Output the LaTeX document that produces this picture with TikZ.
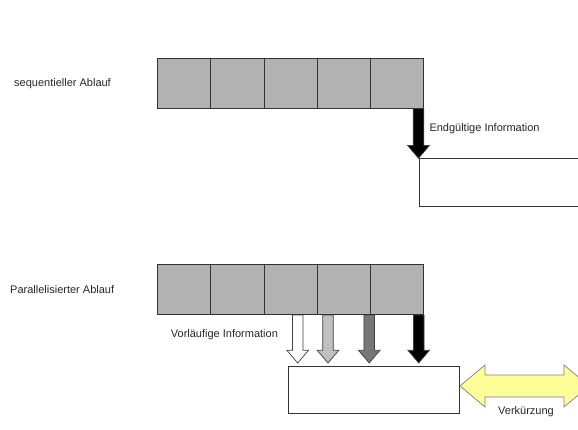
\documentclass[tikz,border=0pt]{standalone}
\usepackage{fontspec}
\setmainfont{Liberation Sans}
\usetikzlibrary{calc}

\definecolor{boxgray}{HTML}{B2B2B2}
\definecolor{framegray}{HTML}{333333}
\definecolor{arrowline}{HTML}{404040}
\definecolor{lightarrow}{HTML}{C0C0C0}
\definecolor{darkarrow}{HTML}{777777}
\definecolor{shortyellow}{HTML}{FFFF99}

% thick arrow pointing down: from #1 to the tip #2, filled with #3
\newcommand{\blockarrow}[3]{%
  \filldraw[fill=#3, draw=arrowline, line width=0.7pt, line join=miter]
    ($(#1)+(-5.3,0)$) -- ($(#2)+(-5.3,-12.7)$) -- ($(#2)+(-10.8,-12.7)$) -- (#2)
    -- ($(#2)+(10.8,-12.7)$) -- ($(#2)+(5.3,-12.7)$) -- ($(#1)+(5.3,0)$) -- cycle;}

\begin{document}
\begin{tikzpicture}[x=1pt,y=-1pt,
    every node/.style={font=\fontsize{11}{13}\selectfont, text=black!85},
    stage/.style={draw=framegray, fill=boxgray, minimum width=53.3pt,
      minimum height=50pt, inner sep=0pt, line width=0.8pt},
    result/.style={draw=framegray, fill=white, inner sep=0pt, line width=0.7pt}]

        \useasboundingbox (0,0) rectangle (578,430);
        \clip (0,0) rectangle (578,430);

        % sequential run
        \node[anchor=west, inner sep=0pt] (seq) at (14,83.3) {sequentieller Ablauf};
        \node[stage] (s1) at (184,83.3)   {};
        \node[stage] (s2) at (237.3,83.3) {};
        \node[stage] (s3) at (290.6,83.3) {};
        \node[stage] (s4) at (343.9,83.3) {};
        \node[stage] (s5) at (397.2,83.3) {};

        \node[result, anchor=north west, minimum width=180pt, minimum height=47.7pt]
          (r1) at (418.5,158.3) {};

        \blockarrow{r1.north west |- s5.south}{r1.north west}{black}
        \node[anchor=west, inner sep=0pt] (final) at (429.3,129) {Endgültige Information};

        % parallel run
        \node[anchor=west, inner sep=0pt] (par) at (10,289.3) {Parallelisierter Ablauf};
        \node[stage] (p1) at (184,289.7)   {};
        \node[stage] (p2) at (237.3,289.7) {};
        \node[stage] (p3) at (290.6,289.7) {};
        \node[stage] (p4) at (343.9,289.7) {};
        \node[stage] (p5) at (397.2,289.7) {};

        \node[result, anchor=north west, minimum width=171pt, minimum height=46.7pt]
          (r2) at (288.3,366) {};

        \coordinate (t1) at (297.7,363);
        \coordinate (t2) at (328,363);
        \coordinate (t3) at (369.2,363);
        \coordinate (t4) at (418.7,363);

        \blockarrow{t1 |- p3.south}{t1}{white}
        \blockarrow{t2 |- p4.south}{t2}{lightarrow}
        \blockarrow{t3 |- p4.south}{t3}{darkarrow}
        \blockarrow{t4 |- p5.south}{t4}{black}
        \node[anchor=west, inner sep=0pt] (prelim) at (170.7,335) {Vorläufige Information};

        % saving in time
        \coordinate (vl) at (460,386);
        \coordinate (vr) at (589,386);
        \filldraw[fill=shortyellow, draw=gray, line width=0.7pt, line join=miter]
          (vl) -- ($(vl)+(25,-21)$) -- ($(vl)+(25,-11)$) -- ($(vr)+(-25,-11)$)
          -- ($(vr)+(-25,-21)$) -- (vr) -- ($(vr)+(-25,21)$) -- ($(vr)+(-25,11)$)
          -- ($(vl)+(25,11)$) -- ($(vl)+(25,21)$) -- cycle;
        \node (gain) at (526,411.7) {Verkürzung};

      \end{tikzpicture}
\end{document}
